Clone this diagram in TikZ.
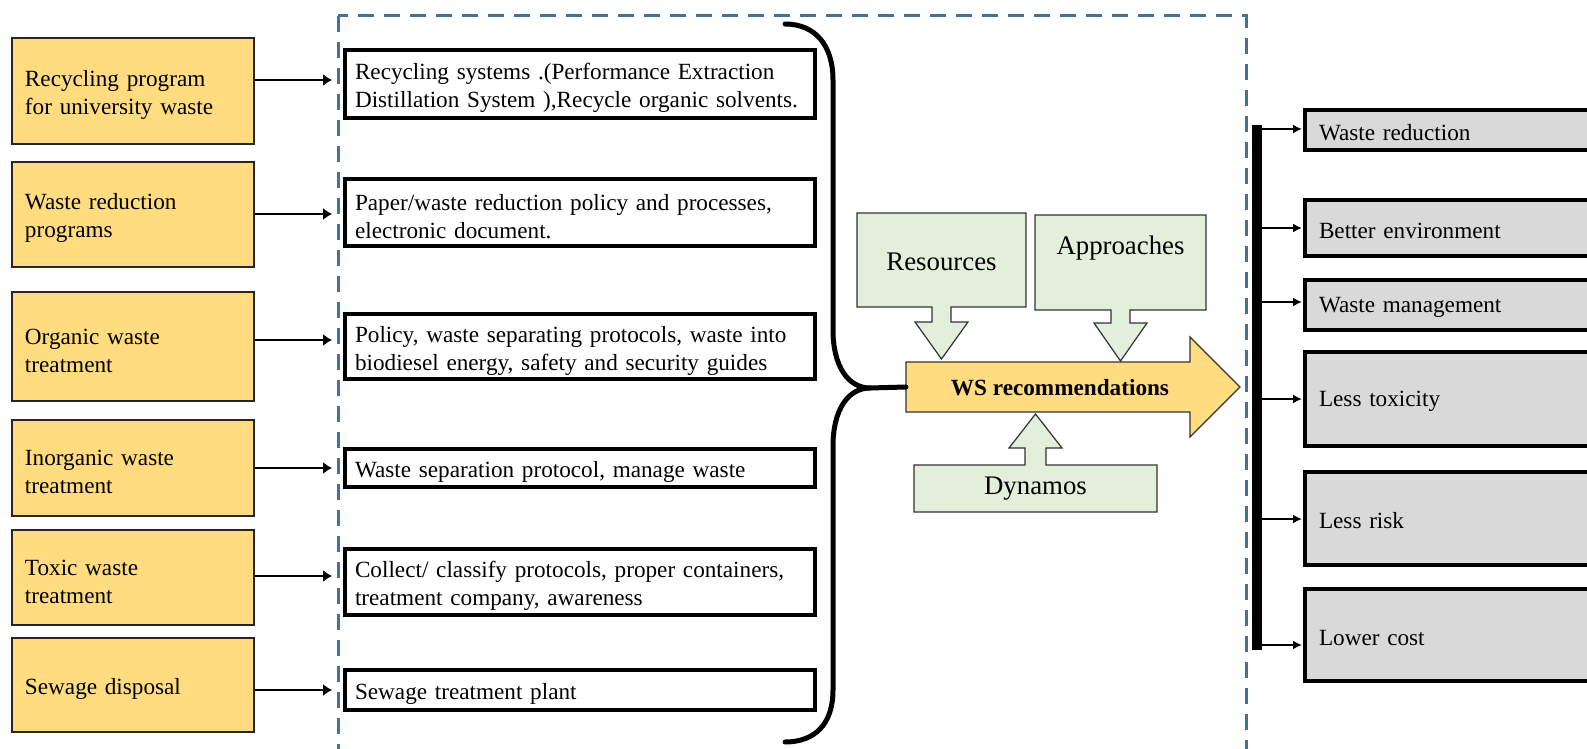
\documentclass[tikz,border=0pt]{standalone}
\usepackage{fontspec}
\setmainfont{Liberation Serif}
\usetikzlibrary{arrows.meta}
\definecolor{gold}{HTML}{FFDC7F}
\definecolor{sage}{HTML}{E2EFDA}
\definecolor{lgray}{HTML}{D9D9D9}
\definecolor{dashblue}{HTML}{41719C}
\tikzset{
  txt/.style={font=\fontsize{11.6}{14}\selectfont},
  src/.style={txt, draw=black!85, line width=0.8pt, fill=gold, text width=108pt,
    inner xsep=6.5pt, inner ysep=0pt, align=left,
    execute at begin node={\rule{0pt}{12pt}}},
  act/.style={txt, draw=black, line width=2pt, fill=white, text width=225pt,
    inner xsep=5pt, inner ysep=0pt, align=left,
    execute at begin node={\rule{0pt}{12.5pt}}},
  outc/.style={txt, draw=black, line width=2pt, fill=lgray, text width=143.5pt,
    inner xsep=7pt, inner ysep=0pt, align=left,
    execute at begin node={\rule{0pt}{10.5pt}}},
  callout/.style={fill=sage, draw=black!80, line width=0.6pt, line join=miter},
  bigarrow/.style={fill=gold, draw=black!80, line width=0.6pt, line join=miter},
  feed/.style={line width=0.7pt, -{Latex[length=4.5pt,width=6pt]}, shorten >=5.5pt},
  fan/.style={line width=1.2pt, -{Latex[length=4.5pt,width=4.5pt]}, shorten >=0.5pt},
  frame/.style={dashblue, line width=1.5pt, dash pattern=on 8pt off 5pt},
  brace/.style={line width=2.5pt, line cap=round, line join=round},
}
\begin{document}
\begin{tikzpicture}[x=0.5pt,y=-0.5pt]
\clip (0,0) rectangle (1587,749);
\fill[white] (0,0) rectangle (1587,749);

% dashed frame around the measures and the recommendation block
\draw[frame] (338,16) rectangle (1246,790);

% waste streams
\node[src, minimum height=53pt]   (s1) at (133,91)    {Recycling program\\for university waste};
\node[src, minimum height=52.5pt] (s2) at (133,214.5) {Waste reduction\\programs};
\node[src, minimum height=54.5pt] (s3) at (133,346.5) {Organic waste\\treatment};
\node[src, minimum height=48pt]   (s4) at (133,468)   {Inorganic waste\\treatment};
\node[src, minimum height=47.5pt] (s5) at (133,577.5) {Toxic waste\\treatment};
\node[src, minimum height=47pt]   (s6) at (133,685)   {Sewage disposal};

% measures
\node[act, minimum height=34pt]   (a1) at (580,84)    {Recycling systems .(Performance Extraction\\Distillation System ),Recycle organic solvents.};
\node[act, minimum height=33.5pt] (a2) at (580,212.5) {Paper/waste reduction policy and processes,\\electronic document.};
\node[act, minimum height=32.5pt] (a3) at (580,346.5) {Policy, waste separating protocols, waste into\\biodiesel energy, safety and security guides};
\node[act, minimum height=19pt]   (a4) at (580,468)   {Waste separation protocol, manage waste};
\node[act, minimum height=33pt]   (a5) at (580,582)   {Collect/ classify protocols, proper containers,\\treatment company, awareness};
\node[act, minimum height=20pt]   (a6) at (580,690)   {Sewage treatment plant};

\draw[feed] (s1.east |- 0,80)  -- (a1.west |- 0,80);
\draw[feed] (s2.east |- 0,214) -- (a2.west |- 0,214);
\draw[feed] (s3.east |- 0,340) -- (a3.west |- 0,340);
\draw[feed] (s4.east |- 0,468) -- (a4.west |- 0,468);
\draw[feed] (s5.east |- 0,576) -- (a5.west |- 0,576);
\draw[feed] (s6.east |- 0,690) -- (a6.west |- 0,690);

% central block arrow
\filldraw[bigarrow] (906,362) -- (1190,362) -- (1190,337) -- (1240,387)
  -- (1190,437) -- (1190,412) -- (906,412) -- cycle;
\node[font=\fontsize{11.6}{14}\selectfont\bfseries] (ws) at (1060,388) {WS recommendations};
\coordinate (wsin) at (906,387);

% inputs feeding the recommendations
\filldraw[callout] (857,213) -- (1026,213) -- (1026,307) -- (951,307) -- (951,322)
  -- (968,322) -- (941.5,359) -- (915,322) -- (932,322) -- (932,307) -- (857,307) -- cycle;
\node[font=\fontsize{13.4}{16}\selectfont] (res) at (941.5,262) {Resources};

\filldraw[callout] (1035,215) -- (1206,215) -- (1206,310) -- (1130,310) -- (1130,323)
  -- (1147,323) -- (1120.5,361) -- (1094,323) -- (1111,323) -- (1111,310) -- (1035,310) -- cycle;
\node[font=\fontsize{13.4}{16}\selectfont] (app) at (1120.5,248) {Approaches};

\filldraw[callout] (914,465) -- (1025,465) -- (1025,448) -- (1009,448) -- (1035.5,414)
  -- (1062,448) -- (1046,448) -- (1046,465) -- (1157,465) -- (1157,512) -- (914,512) -- cycle;
\node[font=\fontsize{13.4}{16}\selectfont] (dyn) at (1035.5,489) {Dynamos};

% brace gathering the measures
\draw[brace] (785,24) .. controls (815,24) and (833,45) .. (833,80) -- (833,330)
  .. controls (833,366) and (848,388) .. (870,388) -- (wsin);
\draw[brace] (870,388) .. controls (848,388) and (833,410) .. (833,446) -- (833,690)
  .. controls (833,724) and (815,742) .. (785,742);

% outcomes
\node[outc, minimum height=20pt]   (o1) at (1462.5,130)   {Waste reduction};
\node[outc, minimum height=28pt]   (o2) at (1462.5,228)   {Better environment};
\node[outc, minimum height=25pt]   (o3) at (1462.5,305)   {Waste management};
\node[outc, minimum height=47pt]   (o4) at (1462.5,399)   {Less toxicity};
\node[outc, minimum height=46.5pt] (o5) at (1462.5,518.5) {Less risk};
\node[outc, minimum height=46pt]   (o6) at (1462.5,635)   {Lower cost};

\coordinate (bartop) at (1257,125);
\coordinate (barbot) at (1257,650);
\draw[line width=5pt] (bartop) -- (barbot);

\draw[fan] (bartop |- 0,129) -- (o1.west |- 0,129);
\draw[fan] (bartop |- 0,228) -- (o2.west |- 0,228);
\draw[fan] (bartop |- 0,302) -- (o3.west |- 0,302);
\draw[fan] (bartop |- 0,399) -- (o4.west |- 0,399);
\draw[fan] (bartop |- 0,519) -- (o5.west |- 0,519);
\draw[fan] (bartop |- 0,645) -- (o6.west |- 0,645);
\end{tikzpicture}
\end{document}
